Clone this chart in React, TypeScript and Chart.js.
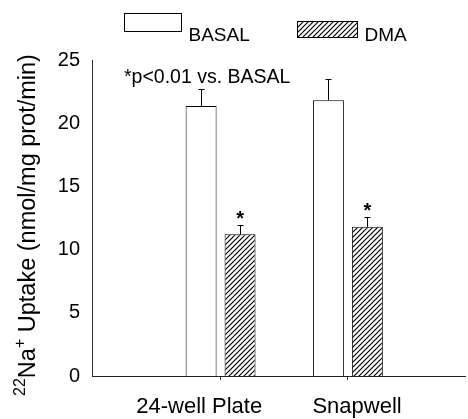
import React, { useEffect, useRef } from 'react';
import { Chart, registerables } from 'chart.js';

Chart.register(...registerables);

// ---- data ----
const categories = ['24-well Plate', 'Snapwell'];
const categoryIndex = [1, 2];
const seriesNames = ['BASAL', 'DMA'];
const basal = [21.36, 21.81];
const basalErr = [1.32, 1.66];
const dma = [11.21, 11.81];
const dmaErr = [0.71, 0.74];
const dmaSignificant = [true, true];
const yTickStep = 5;
const yMax = 25;
const annotationText = '*p<0.01 vs. BASAL';
const yTitleParts = [
  { t: '22', sup: true },
  { t: 'Na', sup: false },
  { t: '+', sup: true },
  { t: ' Uptake (nmol/mg prot/min)', sup: false },
];

const FONT = '"Liberation Sans", Arial, Helvetica, sans-serif';

export default function App() {
  const ref = useRef<HTMLCanvasElement>(null);

  useEffect(() => {
    const canvas = ref.current!;
    const ctx = canvas.getContext('2d')!;

    // hatch pattern
    const tile = document.createElement('canvas');
    tile.width = 5;
    tile.height = 5;
    const tc = tile.getContext('2d')!;
    tc.fillStyle = '#fff';
    tc.fillRect(0, 0, 5, 5);
    tc.strokeStyle = '#000';
    tc.lineWidth = 1.2;
    tc.beginPath();
    tc.moveTo(-1, 6);
    tc.lineTo(6, -1);
    tc.moveTo(-1, 1);
    tc.lineTo(1, -1);
    tc.moveTo(4, 6);
    tc.lineTo(6, 4);
    tc.stroke();
    const hatch = ctx.createPattern(tile, 'repeat')!;

    const values = [basal, dma];
    const errors = [basalErr, dmaErr];

    const errorPlugin = {
      id: 'errorBars',
      afterDatasetsDraw(chart: any) {
        const c = chart.ctx;
        const ys = chart.scales.y;
        chart.data.datasets.forEach((_ds: any, di: number) => {
          const meta = chart.getDatasetMeta(di);
          meta.data.forEach((el: any, i: number) => {
            const top = Math.round(ys.getPixelForValue(values[di][i] + errors[di][i])) + 0.5;
            const x = Math.round(el.x) + 0.5;
            c.save();
            c.strokeStyle = '#000';
            c.lineWidth = 1;
            c.beginPath();
            c.moveTo(x, el.y);
            c.lineTo(x, top);
            c.moveTo(x - 3, top);
            c.lineTo(x + 3, top);
            c.stroke();
            if (di === 1 && dmaSignificant[i]) {
              c.font = `bold 20px ${FONT}`;
              c.textAlign = 'center';
              c.textBaseline = 'alphabetic';
              c.fillStyle = '#000';
              c.fillText('*', el.x, top - 1);
            }
            c.restore();
          });
        });
      },
    };

    const decorPlugin = {
      id: 'decor',
      afterDraw(chart: any) {
        const c = chart.ctx;
        c.save();
        // legend
        const boxes = [
          { x: 124.5, y: 13.5, w: 57, h: 18 },
          { x: 297.5, y: 21.5, w: 60, h: 16 },
        ];
        chart.data.datasets.forEach((ds: any, i: number) => {
          const b = boxes[i];
          c.fillStyle = ds.backgroundColor;
          c.fillRect(b.x, b.y, b.w, b.h);
          c.strokeStyle = '#000';
          c.lineWidth = 1;
          c.strokeRect(b.x, b.y, b.w, b.h);
          c.fillStyle = '#000';
          c.font = `19px ${FONT}`;
          c.textAlign = 'left';
          c.textBaseline = 'alphabetic';
          c.fillText(ds.label, b.x + b.w + 7, 41);
        });
        // annotation
        c.font = `19.5px ${FONT}`;
        c.fillStyle = '#000';
        c.textAlign = 'left';
        c.fillText(annotationText, 124, 83);
        // y title
        const mainFont = `23.5px ${FONT}`;
        const supFont = `16px ${FONT}`;
        let total = 0;
        const widths = yTitleParts.map((p) => {
          c.font = p.sup ? supFont : mainFont;
          const w = c.measureText(p.t).width;
          total += w;
          return w;
        });
        c.translate(35, 225);
        c.rotate(-Math.PI / 2);
        let x = -total / 2;
        yTitleParts.forEach((p, i) => {
          c.font = p.sup ? supFont : mainFont;
          c.fillText(p.t, x, p.sup ? -10 : 0);
          x += widths[i];
        });
        c.restore();
      },
    };

    const chart = new Chart(ctx, {
      type: 'bar',
      data: {
        datasets: [
          {
            label: seriesNames[0],
            data: categoryIndex.map((c, i) => ({ x: c, y: basal[i] })),
            backgroundColor: '#ffffff',
            borderColor: '#000',
            borderWidth: 1,
          },
          {
            label: seriesNames[1],
            data: categoryIndex.map((c, i) => ({ x: c, y: dma[i] })),
            backgroundColor: hatch as any,
            borderColor: '#000',
            borderWidth: 1,
          },
        ],
      },
      options: {
        animation: false,
        responsive: true,
        maintainAspectRatio: false,
        categoryPercentage: 0.612,
        barPercentage: 0.795,
        layout: { padding: { top: 60, right: 3, left: 0, bottom: 0 } },
        plugins: { legend: { display: false }, tooltip: { enabled: false } },
        scales: {
          x: {
            type: 'linear',
            min: -0.01,
            max: 2.92,
            bounds: 'data',
            offset: false,
            grid: { display: true, offset: false, drawOnChartArea: false, drawTicks: true, tickLength: 4, color: '#333' },
            border: { display: true, color: '#222', width: 1 },
            afterBuildTicks: (scale: any) => {
              scale.ticks = categoryIndex.map((v) => ({ value: v }));
            },
            afterFit: (scale: any) => {
              scale.height = 43;
            },
            ticks: {
              padding: 14,
              color: '#000',
              font: { family: FONT, size: 22 },
              maxRotation: 0,
              autoSkip: false,
              callback: (_v: any, i: number) =>
                i === 0 ? categories[i] + '       ' : '   ' + categories[i],
            },
          },
          y: {
            min: 0,
            max: yMax,
            grid: { display: false, drawTicks: false },
            border: { display: true, color: '#333', width: 1 },
            afterFit: (scale: any) => {
              scale.width = 92;
            },
            ticks: {
              stepSize: yTickStep,
              padding: 12,
              color: '#000',
              font: { family: FONT, size: 20 },
            },
          },
        },
      },
      plugins: [errorPlugin, decorPlugin],
    } as any);

    return () => chart.destroy();
  }, []);

  return (
    <div style={{ position: 'fixed', left: 0, top: 0, width: 468, height: 419, background: '#fff' }}>
      <canvas ref={ref} />
    </div>
  );
}
